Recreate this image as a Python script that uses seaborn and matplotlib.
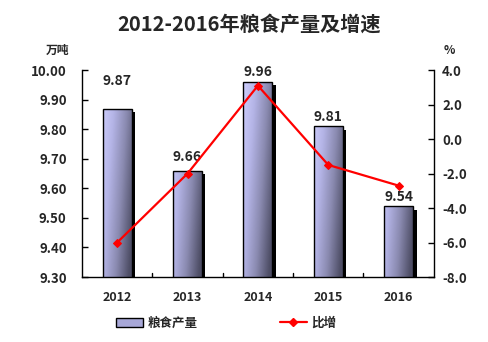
import numpy as np
import pandas as pd
import matplotlib
matplotlib.use("Agg")
import matplotlib.pyplot as plt
import matplotlib.transforms as mtrans
from matplotlib.patches import Rectangle
from matplotlib.lines import Line2D
from matplotlib.colors import LinearSegmentedColormap
import seaborn as sns

years = ["2012", "2013", "2014", "2015", "2016"]
output = [9.87, 9.66, 9.96, 9.81, 9.54]
growth = [-6.0, -2.0, 3.1, -1.5, -2.7]
left_ticks = [9.30, 9.40, 9.50, 9.60, 9.70, 9.80, 9.90, 10.00]
right_ticks = [-8.0, -6.0, -4.0, -2.0, 0.0, 2.0, 4.0]
label_offsets = [19.5, 10, 7.2, 6.5, 6.5]  # label lift above bars, in points

sns.set_theme(style="white")
plt.rcParams['font.family'] = ['Noto Sans CJK SC', 'DejaVu Sans']
plt.rcParams['font.weight'] = 'heavy'

fig = plt.figure(figsize=(4.88, 3.42), dpi=100)
ax = fig.add_axes([0.168, 0.190, 0.721, 0.605])

ymin, ymax = 9.30, 10.00
df = pd.DataFrame({"year": years, "output": output})
sns.barplot(data=df, x="year", y="output", ax=ax, width=0.41,
            color="#c8c8f8", edgecolor="black", linewidth=1.0, zorder=3)

ax.set_ylim(ymin, ymax)
ax.set_xlim(-0.5, len(years) - 0.5)

cmap = LinearSegmentedColormap.from_list("g", ["#d0d0ff", "#b4b4e6", "#8a8ab0", "#4e4e66"])
shadow_tr = mtrans.offset_copy(ax.transData, fig=fig, x=3.5, y=-3.5, units='dots')
xs = np.linspace(0, 1, 64)
for p in list(ax.patches):
    x0, w = p.get_x(), p.get_width()
    top = p.get_y() + p.get_height()
    p.set_y(ymin)
    p.set_height(top - ymin)
    h = top - ymin
    sh = Rectangle((x0, ymin), w, h, facecolor="black", edgecolor="none",
                   transform=shadow_tr, zorder=2)
    ax.add_patch(sh)
    ys = np.linspace(top, ymin, 64)
    yfrac = 1 - (ys - ymin) / (ymax - ymin)
    grad = 0.72 * xs[None, :] + 0.35 * yfrac[:, None]
    grad = np.clip(grad, 0, 1)
    im = ax.imshow(grad, extent=[x0, x0 + w, ymin, top], aspect='auto',
                   cmap=cmap, vmin=0, vmax=1, zorder=3.5, interpolation='bilinear')
    im.set_clip_path(p)
    p.set_facecolor("none")
    p.set_zorder(4)

ax.set_ylim(ymin, ymax)
ax.set_xlim(-0.5, len(years) - 0.5)

for i, v in enumerate(output):
    ax.annotate(f"{v:.2f}", (i, v), xytext=(0, label_offsets[i]), textcoords='offset points',
                ha='center', va='center', fontsize=10, fontweight='heavy', zorder=6)

ax.set_yticks(left_ticks)
ax.set_yticklabels([f"{t:.2f}" for t in left_ticks], fontsize=9.5, fontweight='heavy')
ax.set_xticks(range(len(years)))
ax.set_xticklabels(years, fontsize=9, fontweight='heavy')
ax.tick_params(axis='x', length=0, pad=10)
ax.tick_params(axis='y', direction='in', length=4, width=1, color='black', left=True, pad=11)
for xb in np.arange(0.5, len(years) - 0.5, 1):
    ax.plot([xb, xb], [0, 0.02], transform=ax.get_xaxis_transform(), color='black', lw=1, zorder=5)
ax.set_xlabel("")
ax.set_ylabel("")
for s in ["left", "bottom"]:
    ax.spines[s].set_visible(True)
    ax.spines[s].set_color("black")
    ax.spines[s].set_linewidth(1)
ax.spines["top"].set_visible(False)
ax.spines["right"].set_visible(False)
ax.grid(False)

ax2 = ax.twinx()
gdf = pd.DataFrame({"pos": np.arange(len(years)), "growth": growth})
sns.lineplot(data=gdf, x="pos", y="growth", ax=ax2, color="red", lw=1.6,
             marker="D", markersize=4.5, markeredgecolor="red", zorder=7)
ax2.set_ylim(-8.0, 4.0)
ax2.set_yticks(right_ticks)
ax2.set_yticklabels([f"{t:.1f}" for t in right_ticks], fontsize=9.5, fontweight='heavy')
ax2.tick_params(axis='y', direction='in', length=4, width=1, color='black', right=True, pad=6)
ax2.set_ylabel("")
ax2.set_xlabel("")
ax2.set_xlim(-0.5, len(years) - 0.5)
for s in ["left", "top", "bottom"]:
    ax2.spines[s].set_visible(False)
ax2.spines["right"].set_visible(True)
ax2.spines["right"].set_color("black")
ax2.spines["right"].set_linewidth(1)
ax2.grid(False)

fig.text(0.51, 0.928, "2012-2016年粮食产量及增速", ha='center', va='center',
         fontsize=14.5, fontweight='heavy')
fig.text(0.118, 0.852, "万吨", ha='center', va='center', fontsize=8.5, fontweight='heavy')
fig.text(0.920, 0.852, "%", ha='center', va='center', fontsize=8.5, fontweight='heavy')

bar_handle = Rectangle((0, 0), 1, 1, facecolor="#a8a8d8", edgecolor="black", lw=1)
line_handle = Line2D([0], [0], color='red', lw=1.6, marker='D', markersize=4)
fig.legend([bar_handle, line_handle], ["粮食产量", "比增"], loc='center',
           bbox_to_anchor=(0.463, 0.055), ncol=2, frameon=False,
           handlelength=2.2, handleheight=0.8, columnspacing=6.6, handletextpad=0.3,
           prop={'weight': 'heavy', 'size': 9})

fig.savefig("out.png", dpi=100)
